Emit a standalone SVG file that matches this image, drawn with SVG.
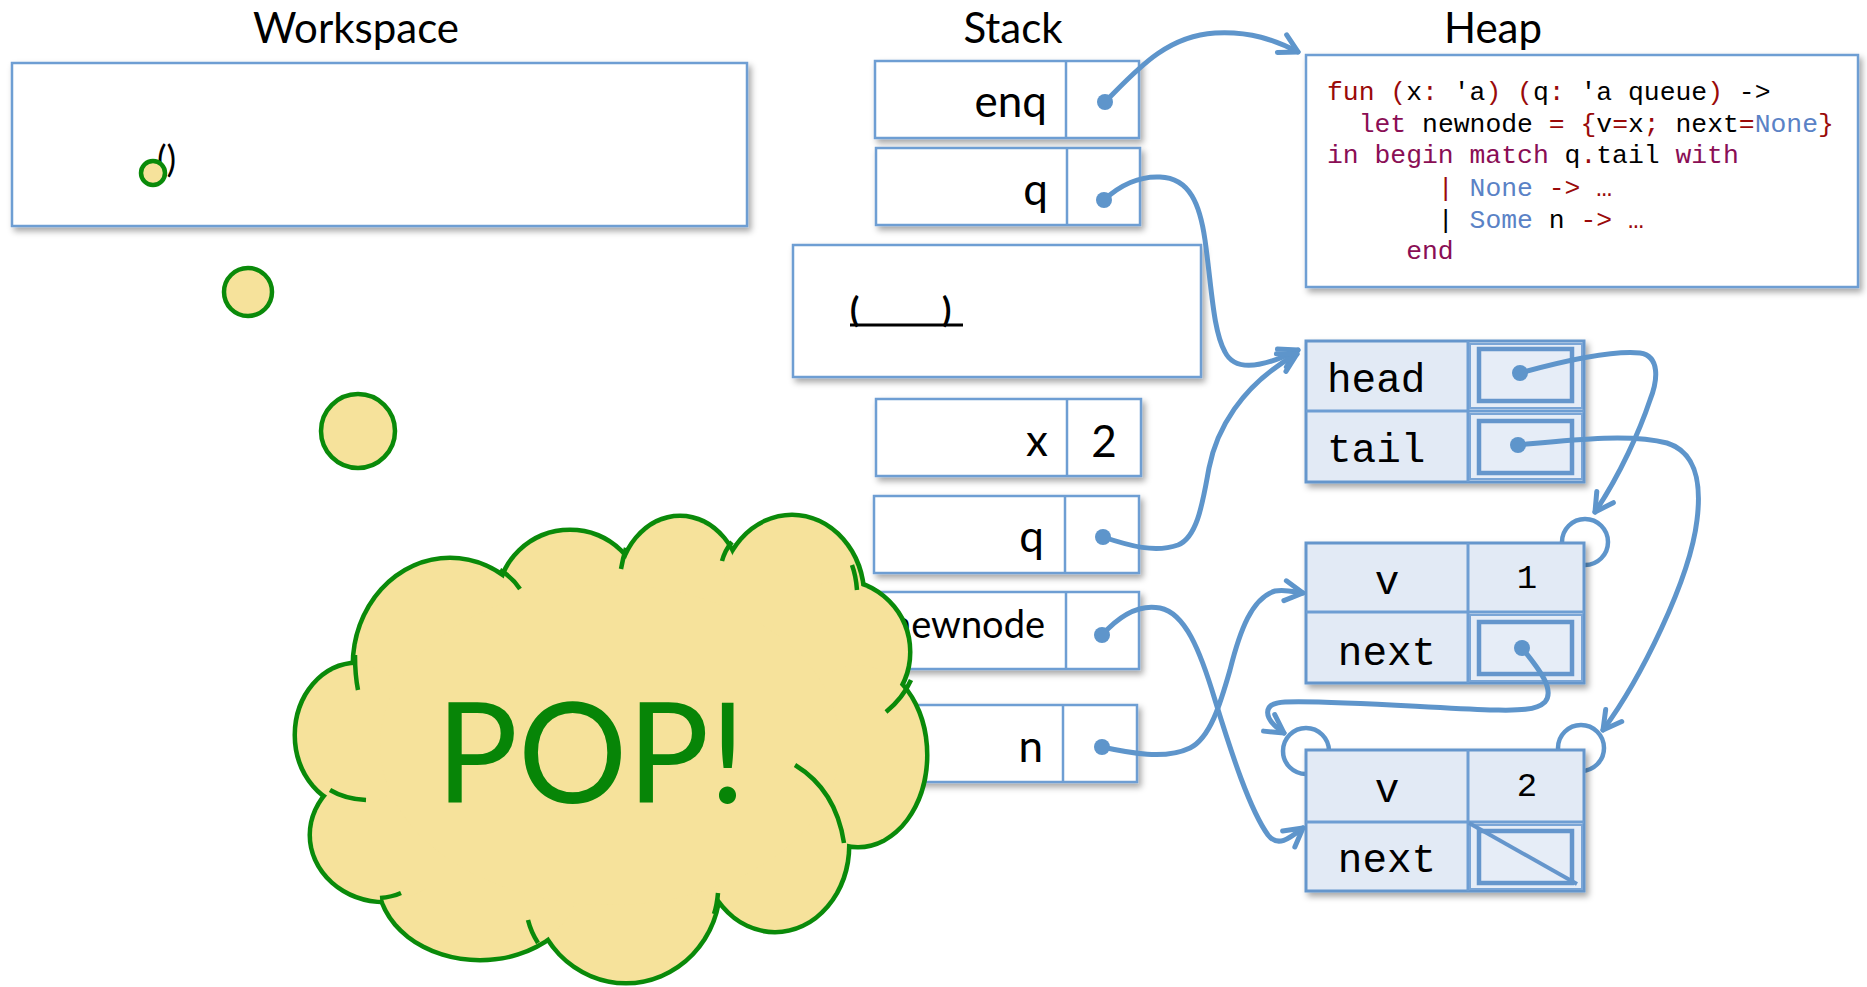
<svg xmlns="http://www.w3.org/2000/svg" width="1867" height="987" viewBox="0 0 1867 987">
<style>
.title{font-family:Lato,"Liberation Sans",sans-serif;font-size:42px;fill:#000;text-anchor:middle}
.lbl{font-family:Lato,"Liberation Sans",sans-serif;font-size:44px;fill:#000;text-anchor:end}
.box{fill:#fff;stroke:#6E9ED3;stroke-width:2.5}
.div{stroke:#6E9ED3;stroke-width:2.5}
.rec{fill:#E2EAF5;stroke:#6596CC;stroke-width:3}
.cell{fill:#E6EDF7;stroke:#7AA5D6;stroke-width:2}
.inner{fill:none;stroke:#6596CC;stroke-width:4.5}
.mono{font-family:"Liberation Mono","DejaVu Sans Mono",monospace;font-size:41px;fill:#000}
.code{font-family:"Liberation Mono","DejaVu Sans Mono",monospace;font-size:26.4px;fill:#000}
.r{fill:#9A0A0A}.k{fill:#8A0E55}.b{fill:#5A82C6}
.conn{fill:none;stroke:#5E95CB;stroke-width:5;stroke-linecap:round;stroke-linejoin:round}
.lolli{fill:none;stroke:#5E95CB;stroke-width:4.5}
.bub{fill:#F6E29B;stroke:#0A8A0A;stroke-width:4.5}
.cl{fill:#F6E29B;stroke:#0A8A0A;stroke-width:9}
.clf{fill:#F6E29B;stroke:none}
.stub{fill:none;stroke:#0A8A0A;stroke-width:4.5}
</style>
<defs>
<filter id="sh" x="-10%" y="-10%" width="130%" height="140%">
<feDropShadow dx="3" dy="4" stdDeviation="3" flood-color="#000" flood-opacity="0.35"/>
</filter>
<marker id="ah" markerUnits="userSpaceOnUse" viewBox="-24 -14 28 28" refX="0" refY="0" markerWidth="28" markerHeight="28" orient="auto" overflow="visible">
<path d="M-18,-10 L0,0 L-18,10" fill="none" stroke="#5E95CB" stroke-width="5" stroke-linecap="round" stroke-linejoin="round"/>
</marker>
<marker id="dot" markerUnits="userSpaceOnUse" viewBox="-10 -10 20 20" refX="0" refY="0" markerWidth="20" markerHeight="20" overflow="visible">
<circle r="8" fill="#5E95CB"/>
</marker>
</defs>

<rect width="1867" height="987" fill="#fff"/>

<g id="titles">
<text class="title" x="356" y="43">Workspace</text>
<text class="title" x="1013" y="43">Stack</text>
<text class="title" x="1493" y="43">Heap</text>
</g>

<g id="workspace">
<rect class="box" x="12" y="63" width="735" height="163" filter="url(#sh)"/>
<text x="157" y="172" font-family="Lato,'Liberation Sans',sans-serif" font-size="36">()</text>
<circle class="bub" cx="153" cy="173" r="12"/>
</g>

<g id="bubbles">
<circle class="bub" cx="248" cy="292" r="24"/>
<circle class="bub" cx="358" cy="431" r="37"/>
</g>

<g id="stack-enq">
<rect class="box" x="875" y="61" width="264" height="77" filter="url(#sh)"/>
<line class="div" x1="1066" y1="61" x2="1066" y2="138"/>
<text class="lbl" x="1047" y="117">enq</text>
</g>
<g id="stack-q">
<rect class="box" x="876" y="148" width="264" height="77" filter="url(#sh)"/>
<line class="div" x1="1067" y1="148" x2="1067" y2="225"/>
<text class="lbl" x="1048" y="205">q</text>
</g>
<g id="stack-frame">
<rect class="box" x="793" y="245" width="408" height="132" filter="url(#sh)"/>
<text font-family="Lato,'Liberation Sans',sans-serif" font-size="34" font-weight="bold" y="322"><tspan x="850">(</tspan><tspan x="942">)</tspan></text>
<line x1="850" y1="325" x2="963" y2="325" stroke="#000" stroke-width="3"/>
</g>
<g id="stack-x">
<rect class="box" x="876" y="399" width="265" height="77" filter="url(#sh)"/>
<line class="div" x1="1067" y1="399" x2="1067" y2="476"/>
<text class="lbl" x="1048" y="456">x</text>
<text class="lbl" x="1104" y="457" style="text-anchor:middle">2</text>
</g>
<g id="stack-q2">
<rect class="box" x="874" y="496" width="265" height="77" filter="url(#sh)"/>
<line class="div" x1="1065" y1="496" x2="1065" y2="573"/>
<text class="lbl" x="1044" y="552">q</text>
</g>
<g id="stack-newnode">
<rect class="box" x="875" y="592" width="264" height="77" filter="url(#sh)"/>
<line class="div" x1="1066" y1="592" x2="1066" y2="669"/>
<text class="lbl" x="1045" y="638" style="font-size:38px">newnode</text>
</g>
<g id="stack-n">
<rect class="box" x="872" y="705" width="265" height="77" filter="url(#sh)"/>
<line class="div" x1="1063" y1="705" x2="1063" y2="782"/>
<text class="lbl" x="1043" y="762">n</text>
</g>

<g id="heap-code">
<rect class="box" x="1306" y="55" width="552" height="232" filter="url(#sh)"/>
<text class="code" xml:space="preserve" x="1327" y="100"><tspan class="r">fun</tspan> <tspan class="r">(</tspan>x<tspan class="r">:</tspan> 'a<tspan class="r">)</tspan> <tspan class="r">(</tspan>q<tspan class="r">:</tspan> 'a queue<tspan class="r">)</tspan> -&gt;</text>
<text class="code" xml:space="preserve" x="1327" y="132">  <tspan class="k">let</tspan> newnode <tspan class="r">=</tspan> <tspan class="r">{</tspan>v<tspan class="r">=</tspan>x<tspan class="r">;</tspan> next<tspan class="r">=</tspan><tspan class="b">None</tspan><tspan class="r">}</tspan></text>
<text class="code" xml:space="preserve" x="1327" y="163"><tspan class="k">in begin match</tspan> q<tspan class="r">.</tspan>tail <tspan class="k">with</tspan></text>
<text class="code" xml:space="preserve" x="1327" y="196">       <tspan class="r">|</tspan> <tspan class="b">None</tspan> <tspan class="r">-&gt;</tspan> <tspan class="r">…</tspan></text>
<text class="code" xml:space="preserve" x="1327" y="228">       | <tspan class="b">Some</tspan> n <tspan class="r">-&gt;</tspan> <tspan class="r">…</tspan></text>
<text class="code" xml:space="preserve" x="1327" y="259">     <tspan class="k">end</tspan></text>
</g>

<g id="lollipops">
<circle class="lolli" cx="1585" cy="542" r="23"/>
<circle class="lolli" cx="1306" cy="751" r="23"/>
<circle class="lolli" cx="1581" cy="748" r="23"/>
</g>

<g id="heap-queue">
<rect class="rec" x="1306" y="341" width="278" height="141" filter="url(#sh)"/>
<line class="div" x1="1468" y1="341" x2="1468" y2="482" style="stroke-width:3"/>
<line class="div" x1="1306" y1="411" x2="1584" y2="411" style="stroke-width:3"/>
<rect class="cell" x="1470" y="344" width="112" height="64"/>
<rect class="inner" x="1479" y="349" width="93" height="52"/>
<rect class="cell" x="1470" y="414" width="112" height="65"/>
<rect class="inner" x="1479" y="421" width="93" height="52"/>
<text class="mono" x="1327" y="392">head</text>
<text class="mono" x="1327" y="462">tail</text>
</g>

<g id="heap-node1">
<rect class="rec" x="1306" y="543" width="278" height="140" filter="url(#sh)"/>
<line class="div" x1="1468" y1="543" x2="1468" y2="683" style="stroke-width:3"/>
<line class="div" x1="1306" y1="612" x2="1584" y2="612" style="stroke-width:3"/>
<rect class="cell" x="1470" y="615" width="112" height="66"/>
<rect class="inner" x="1479" y="622" width="93" height="52"/>
<text class="mono" x="1387" y="594" text-anchor="middle">v</text>
<text class="mono" x="1527" y="588" text-anchor="middle" style="font-size:34px">1</text>
<text class="mono" x="1387" y="665" text-anchor="middle">next</text>
</g>

<g id="heap-node2">
<rect class="rec" x="1306" y="750" width="278" height="141" filter="url(#sh)"/>
<line class="div" x1="1468" y1="750" x2="1468" y2="891" style="stroke-width:3"/>
<line class="div" x1="1306" y1="822" x2="1584" y2="822" style="stroke-width:3"/>
<rect class="cell" x="1470" y="825" width="112" height="64"/>
<rect class="inner" x="1479" y="831" width="93" height="52"/>
<line x1="1469" y1="823" x2="1577" y2="884" stroke="#6596CC" stroke-width="4"/>
<text class="mono" x="1387" y="802" text-anchor="middle">v</text>
<text class="mono" x="1527" y="796" text-anchor="middle" style="font-size:34px">2</text>
<text class="mono" x="1387" y="872" text-anchor="middle">next</text>
</g>

<g id="connectors">
<path class="conn" marker-start="url(#dot)" marker-end="url(#ah)" d="M1105,102 C1135,72 1165,36 1215,33 C1250,31 1275,40 1298,52"/>
<path class="conn" marker-start="url(#dot)" marker-end="url(#ah)" d="M1104,200 C1120,185 1140,176 1160,177 C1190,178 1200,205 1205,240 C1212,290 1213,330 1225,352 C1235,372 1262,368 1298,350"/>
<path class="conn" marker-start="url(#dot)" marker-end="url(#ah)" d="M1103,537 C1130,546 1155,553 1178,545 C1198,537 1203,500 1209,468 C1216,432 1240,385 1297,354"/>
<path class="conn" marker-start="url(#dot)" marker-end="url(#ah)" d="M1102,635 C1120,615 1140,604 1160,608 C1185,613 1200,650 1215,700 C1232,755 1250,810 1268,835 C1278,848 1290,838 1303,828"/>
<path class="conn" marker-start="url(#dot)" marker-end="url(#ah)" d="M1102,747 C1130,753 1165,760 1190,748 C1210,738 1220,705 1230,670 C1240,630 1252,598 1275,591 C1285,589 1295,592 1303,593"/>
<path class="conn" marker-start="url(#dot)" marker-end="url(#ah)" d="M1520,373 C1560,362 1610,350 1640,353 C1660,356 1658,380 1650,400 C1640,430 1620,475 1595,512"/>
<path class="conn" marker-start="url(#dot)" marker-end="url(#ah)" d="M1518,445 C1570,440 1630,433 1667,443 C1695,452 1702,480 1697,520 C1690,580 1640,680 1603,730"/>
<path class="conn" marker-start="url(#dot)" marker-end="url(#ah)" d="M1522,648 C1540,670 1555,690 1545,702 C1535,712 1510,710 1490,710 C1430,708 1330,700 1285,702 C1262,703 1262,718 1284,733"/>
</g>

<g id="cloud">
<g class="cl">
<ellipse cx="450" cy="665" rx="95" ry="105"/>
<ellipse cx="570" cy="600" rx="70" ry="68"/>
<ellipse cx="680" cy="590" rx="60" ry="72"/>
<ellipse cx="792" cy="597" rx="70" ry="80"/>
<ellipse cx="838" cy="652" rx="70" ry="70"/>
<ellipse cx="858" cy="755" rx="67" ry="90"/>
<ellipse cx="775" cy="845" rx="72" ry="85"/>
<ellipse cx="626" cy="885" rx="92" ry="96"/>
<ellipse cx="480" cy="880" rx="100" ry="78"/>
<ellipse cx="385" cy="835" rx="73" ry="65"/>
<ellipse cx="357" cy="735" rx="60" ry="70"/>
</g>
<g class="clf">
<ellipse cx="450" cy="665" rx="95" ry="105"/>
<ellipse cx="570" cy="600" rx="70" ry="68"/>
<ellipse cx="680" cy="590" rx="60" ry="72"/>
<ellipse cx="792" cy="597" rx="70" ry="80"/>
<ellipse cx="838" cy="652" rx="70" ry="70"/>
<ellipse cx="858" cy="755" rx="67" ry="90"/>
<ellipse cx="775" cy="845" rx="72" ry="85"/>
<ellipse cx="626" cy="885" rx="92" ry="96"/>
<ellipse cx="480" cy="880" rx="100" ry="78"/>
<ellipse cx="385" cy="835" rx="73" ry="65"/>
<ellipse cx="357" cy="735" rx="60" ry="70"/>
<ellipse cx="610" cy="745" rx="230" ry="160"/>
</g>
<g class="stub">
<path d="M355,655 Q355,675 358,690"/>
<path d="M330,790 Q345,799 366,800"/>
<path d="M380,898 Q392,897 401,893"/>
<path d="M528,920 Q531,932 538,943"/>
<path d="M718,893 Q717,905 714,914"/>
<path d="M795,765 Q836,790 844,843"/>
<path d="M886,712 Q903,698 911,680"/>
<path d="M852,565 Q856,576 857,590"/>
<path d="M732,542 Q725,550 722,561"/>
<path d="M626,548 Q623,558 621,569"/>
<path d="M500,570 Q512,577 520,589"/>
</g>
<text x="436" y="803" font-family="Lato,'Liberation Sans',sans-serif" font-size="140" fill="#078507" textLength="310" lengthAdjust="spacingAndGlyphs">POP!</text>
</g>
</svg>
